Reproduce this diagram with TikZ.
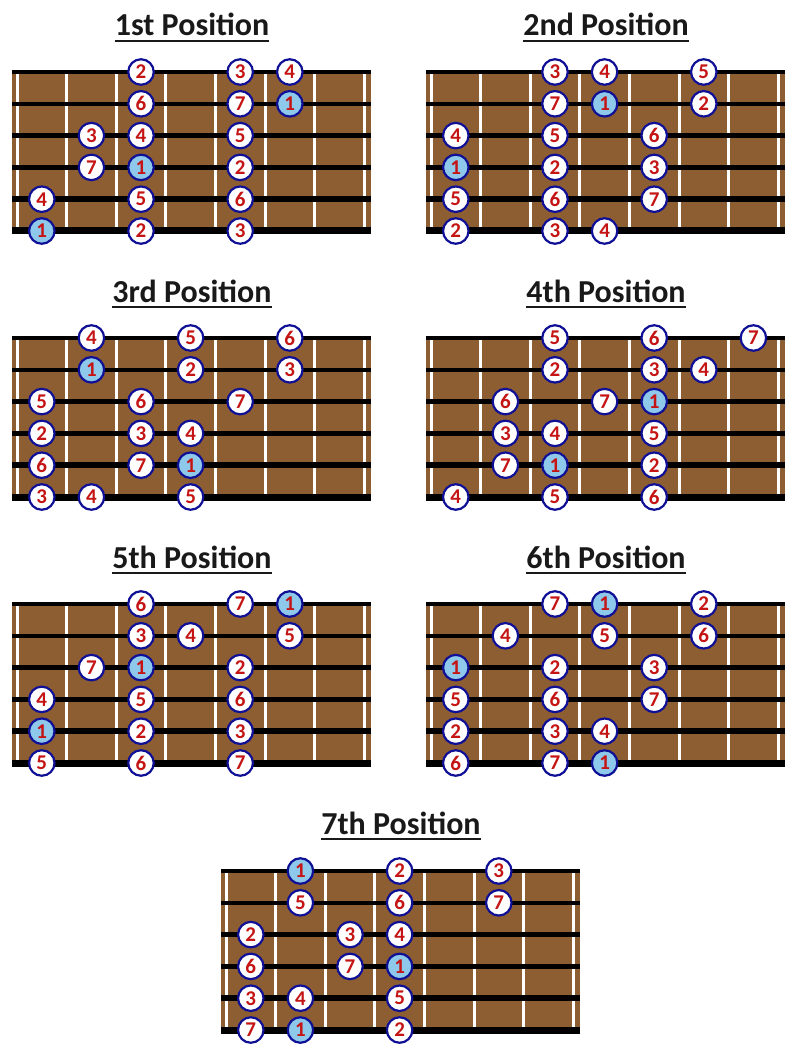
\documentclass[tikz,border=0pt]{standalone}
\usepackage{fontspec}
\setmainfont{Carlito}
\usepackage{tikz}
\usetikzlibrary{positioning}
\usepackage{xcolor}

\definecolor{board}{RGB}{140,94,50}
\definecolor{rootblue}{RGB}{142,200,234}
\definecolor{notered}{RGB}{196,20,20}
\definecolor{ringblue}{RGB}{16,16,150}

\tikzset{
  fret/.style={white, line width=3pt},
  note/.style={circle, draw=ringblue, line width=2.2pt, fill=white, text=notered,
    minimum size=25.5pt, inner sep=0pt, font=\fontsize{21}{21}\selectfont\bfseries},
  root/.style={note, fill=rootblue},
  ptitle/.style={anchor=base, inner sep=0pt, text=black!90,
    font=\fontsize{32}{36}\selectfont\bfseries},
  uline/.style={line width=2.5pt, black!90}
}

% board: #1 left, #2 top
\newcommand{\fretboard}[2]{%
  \fill[board] (#1,#2) rectangle ++(359,159);
  \foreach \k in {0,...,7}
    \draw[fret] ({#1+5+\k*49.6},#2) -- ++(0,159);
  \foreach \s/\w in {1/4,2/4.5,3/5,4/5.5,5/6,6/7}
    \draw[line width=\w] (#1,{#2+(\s-1)*31.8}) -- ++(359,0);
}

% notes: #1 left, #2 top, #3 name, #4 string/fret/degree
\newcommand{\fretnotes}[4]{%
  \foreach \s/\c/\n in {#4}{
    \ifnum\n=1 \def\nst{root}\else\def\nst{note}\fi
    \node[\nst] (#3s\s f\c) at ({#1+5+(\c-0.5)*49.6},{#2+(\s-1)*31.8}) {\n};
  }
}

\begin{document}
\begin{tikzpicture}[x=1pt,y=-1pt]
\useasboundingbox (0,0) rectangle (800,1048);

% titles
\node[ptitle] (t1) at (192,36) {1st Position};
\node[ptitle] (t2) at (606,36) {2nd Position};
\node[ptitle] (t3) at (192,302) {3rd Position};
\node[ptitle] (t4) at (606,302) {4th Position};
\node[ptitle] (t5) at (192,568) {5th Position};
\node[ptitle] (t6) at (606,568) {6th Position};
\node[ptitle] (t7) at (401,834) {7th Position};
\foreach \t in {t1,t2,t3,t4,t5,t6,t7}
  \draw[uline] ([yshift=-5pt]\t.base west) -- ([yshift=-5pt]\t.base east);

% boards
\fretboard{12}{72}
\fretboard{426}{72}
\fretboard{12}{338}
\fretboard{426}{338}
\fretboard{12}{604}
\fretboard{426}{604}
\fretboard{221}{871}

% scale degrees
\fretnotes{12}{72}{p1}{1/3/2,1/5/3,1/6/4, 2/3/6,2/5/7,2/6/1, 3/2/3,3/3/4,3/5/5,
  4/2/7,4/3/1,4/5/2, 5/1/4,5/3/5,5/5/6, 6/1/1,6/3/2,6/5/3}
\fretnotes{426}{72}{p2}{1/3/3,1/4/4,1/6/5, 2/3/7,2/4/1,2/6/2, 3/1/4,3/3/5,3/5/6,
  4/1/1,4/3/2,4/5/3, 5/1/5,5/3/6,5/5/7, 6/1/2,6/3/3,6/4/4}
\fretnotes{12}{338}{p3}{1/2/4,1/4/5,1/6/6, 2/2/1,2/4/2,2/6/3, 3/1/5,3/3/6,3/5/7,
  4/1/2,4/3/3,4/4/4, 5/1/6,5/3/7,5/4/1, 6/1/3,6/2/4,6/4/5}
\fretnotes{426}{338}{p4}{1/3/5,1/5/6,1/7/7, 2/3/2,2/5/3,2/6/4, 3/2/6,3/4/7,3/5/1,
  4/2/3,4/3/4,4/5/5, 5/2/7,5/3/1,5/5/2, 6/1/4,6/3/5,6/5/6}
\fretnotes{12}{604}{p5}{1/3/6,1/5/7,1/6/1, 2/3/3,2/4/4,2/6/5, 3/2/7,3/3/1,3/5/2,
  4/1/4,4/3/5,4/5/6, 5/1/1,5/3/2,5/5/3, 6/1/5,6/3/6,6/5/7}
\fretnotes{426}{604}{p6}{1/3/7,1/4/1,1/6/2, 2/2/4,2/4/5,2/6/6, 3/1/1,3/3/2,3/5/3,
  4/1/5,4/3/6,4/5/7, 5/1/2,5/3/3,5/4/4, 6/1/6,6/3/7,6/4/1}
\fretnotes{221}{871}{p7}{1/2/1,1/4/2,1/6/3, 2/2/5,2/4/6,2/6/7, 3/1/2,3/3/3,3/4/4,
  4/1/6,4/3/7,4/4/1, 5/1/3,5/2/4,5/4/5, 6/1/7,6/2/1,6/4/2}
\end{tikzpicture}
\end{document}
